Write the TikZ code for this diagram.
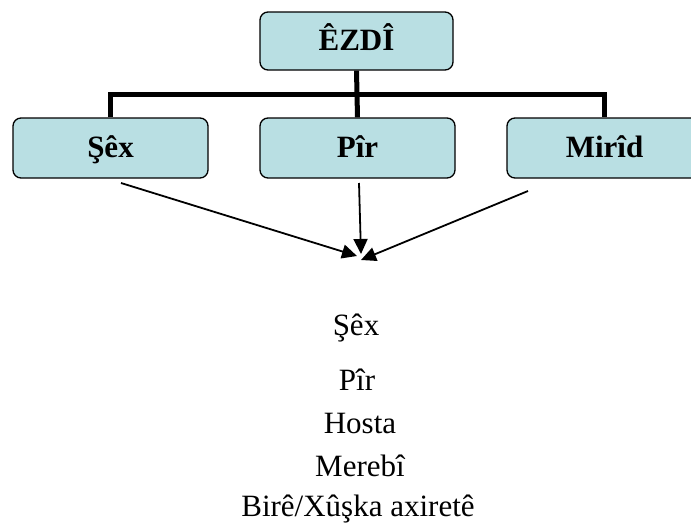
\documentclass[tikz,border=0pt]{standalone}
\usepackage{fontspec}
\setmainfont{Liberation Serif}
\usetikzlibrary{arrows.meta}
\definecolor{boxblue}{RGB}{185,223,227}
\tikzset{
  orgbox/.style={draw=black, line width=1.3pt, fill=boxblue, rounded corners=8pt,
    minimum width=195pt, minimum height=60pt, inner sep=0pt,
    text height=24pt, text depth=6pt, font=\fontsize{31}{34}\selectfont\bfseries},
  tree/.style={line width=5pt},
  arr/.style={line width=1.8pt, -{Triangle[length=15pt,width=14pt]}},
  listtext/.style={anchor=base, inner sep=0pt, font=\fontsize{31}{36}\selectfont}
}
\begin{document}
\begin{tikzpicture}[x=1pt,y=-1pt]
\useasboundingbox (0,0) rectangle (691,525);
\clip (0,0) rectangle (691,525);
\node[orgbox, minimum width=193pt, minimum height=58pt] (top) at (356.5,41) {ÊZDÎ};
\node[orgbox] (sex) at (110.5,148) {Şêx};
\node[orgbox] (pir) at (357.5,148) {Pîr};
\node[orgbox] (mirid) at (604.5,148) {Mirîd};
\coordinate (bar) at (357,94);
\draw[tree] (top.south) -- (pir.north);
\draw[tree] (sex.north) |- (bar) -| (mirid.north);
\coordinate (s1) at (121,183);
\coordinate (s2) at (359,183);
\coordinate (s3) at (528,191);
\coordinate (t1) at (357,256);
\coordinate (t2) at (361,254);
\coordinate (t3) at (361,260);
\draw[arr] (s1) -- (t1);
\draw[arr] (s2) -- (t2);
\draw[arr] (s3) -- (t3);
\node[listtext] (l1) at (356,335) {Şêx};
\node[listtext] (l2) at (357,390) {Pîr};
\node[listtext] (l3) at (360,433) {Hosta};
\node[listtext] (l4) at (360,476) {Merebî};
\node[listtext] (l5) at (358,516) {Birê/Xûşka axiretê};
\end{tikzpicture}
\end{document}
